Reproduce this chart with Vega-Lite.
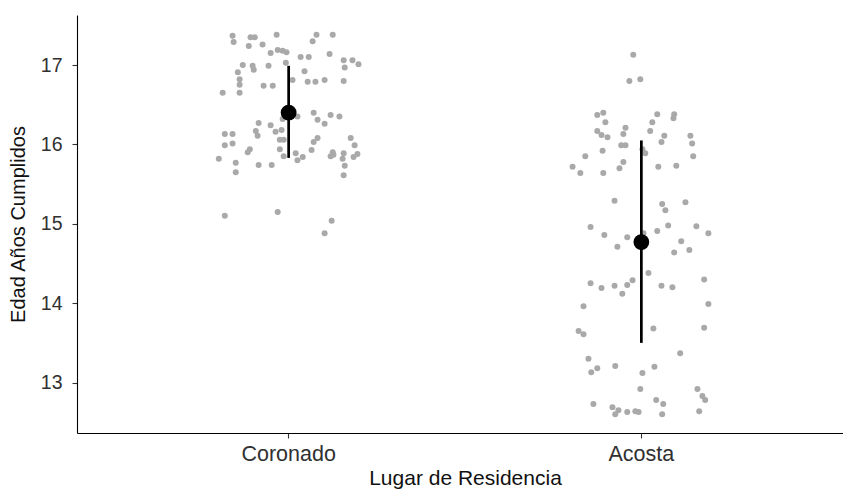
{
  "$schema": "https://vega.github.io/schema/vega-lite/v6.json",
  "width": 776,
  "height": 418,
  "autosize": "none",
  "padding": {"left": 77, "top": 15, "right": 0, "bottom": 56},
  "background": "white",
  "view": {"stroke": null},
  "config": {
    "font": "Liberation Sans",
    "axis": {
      "domainColor": "#000000",
      "domainWidth": 1.1,
      "tickColor": "#333333",
      "tickWidth": 1.1,
      "tickSize": 5,
      "grid": false,
      "labelFont": "Liberation Sans",
      "titleFont": "Liberation Sans",
      "labelColor": "#303030",
      "titleColor": "#111111",
      "titleFontWeight": "normal"
    }
  },
  "datasets": {
    "pts": [
      {"lugar": "Coronado", "jitter": -0.159, "edad": 17.37},
      {"lugar": "Coronado", "jitter": -0.156, "edad": 17.29},
      {"lugar": "Coronado", "jitter": -0.108, "edad": 17.35},
      {"lugar": "Coronado", "jitter": -0.096, "edad": 17.35},
      {"lugar": "Coronado", "jitter": -0.034, "edad": 17.38},
      {"lugar": "Coronado", "jitter": -0.113, "edad": 17.24},
      {"lugar": "Coronado", "jitter": -0.074, "edad": 17.26},
      {"lugar": "Coronado", "jitter": 0.079, "edad": 17.38},
      {"lugar": "Coronado", "jitter": 0.068, "edad": 17.30},
      {"lugar": "Coronado", "jitter": 0.125, "edad": 17.38},
      {"lugar": "Coronado", "jitter": -0.051, "edad": 17.15},
      {"lugar": "Coronado", "jitter": -0.031, "edad": 17.19},
      {"lugar": "Coronado", "jitter": -0.017, "edad": 17.18},
      {"lugar": "Coronado", "jitter": -0.006, "edad": 17.16},
      {"lugar": "Coronado", "jitter": 0.034, "edad": 17.10},
      {"lugar": "Coronado", "jitter": 0.057, "edad": 17.10},
      {"lugar": "Coronado", "jitter": 0.116, "edad": 17.14},
      {"lugar": "Coronado", "jitter": -0.008, "edad": 17.03},
      {"lugar": "Coronado", "jitter": -0.130, "edad": 17.00},
      {"lugar": "Coronado", "jitter": -0.102, "edad": 16.99},
      {"lugar": "Coronado", "jitter": -0.099, "edad": 16.94},
      {"lugar": "Coronado", "jitter": -0.057, "edad": 16.99},
      {"lugar": "Coronado", "jitter": -0.144, "edad": 16.91},
      {"lugar": "Coronado", "jitter": 0.045, "edad": 16.92},
      {"lugar": "Coronado", "jitter": 0.156, "edad": 17.06},
      {"lugar": "Coronado", "jitter": 0.159, "edad": 16.97},
      {"lugar": "Coronado", "jitter": 0.181, "edad": 17.06},
      {"lugar": "Coronado", "jitter": 0.198, "edad": 17.01},
      {"lugar": "Coronado", "jitter": -0.139, "edad": 16.82},
      {"lugar": "Coronado", "jitter": -0.139, "edad": 16.75},
      {"lugar": "Coronado", "jitter": -0.071, "edad": 16.74},
      {"lugar": "Coronado", "jitter": -0.045, "edad": 16.74},
      {"lugar": "Coronado", "jitter": 0.011, "edad": 16.81},
      {"lugar": "Coronado", "jitter": 0.054, "edad": 16.79},
      {"lugar": "Coronado", "jitter": 0.076, "edad": 16.79},
      {"lugar": "Coronado", "jitter": 0.102, "edad": 16.81},
      {"lugar": "Coronado", "jitter": 0.156, "edad": 16.80},
      {"lugar": "Coronado", "jitter": -0.187, "edad": 16.65},
      {"lugar": "Coronado", "jitter": -0.139, "edad": 16.65},
      {"lugar": "Coronado", "jitter": 0.071, "edad": 16.40},
      {"lugar": "Coronado", "jitter": 0.082, "edad": 16.31},
      {"lugar": "Coronado", "jitter": 0.102, "edad": 16.26},
      {"lugar": "Coronado", "jitter": 0.119, "edad": 16.37},
      {"lugar": "Coronado", "jitter": 0.144, "edad": 16.35},
      {"lugar": "Coronado", "jitter": 0.025, "edad": 16.35},
      {"lugar": "Coronado", "jitter": -0.085, "edad": 16.27},
      {"lugar": "Coronado", "jitter": -0.051, "edad": 16.24},
      {"lugar": "Coronado", "jitter": -0.017, "edad": 16.32},
      {"lugar": "Coronado", "jitter": -0.181, "edad": 16.13},
      {"lugar": "Coronado", "jitter": -0.159, "edad": 16.13},
      {"lugar": "Coronado", "jitter": -0.093, "edad": 16.17},
      {"lugar": "Coronado", "jitter": -0.088, "edad": 16.11},
      {"lugar": "Coronado", "jitter": -0.037, "edad": 16.16},
      {"lugar": "Coronado", "jitter": -0.020, "edad": 16.18},
      {"lugar": "Coronado", "jitter": -0.025, "edad": 16.06},
      {"lugar": "Coronado", "jitter": -0.014, "edad": 16.06},
      {"lugar": "Coronado", "jitter": -0.181, "edad": 15.99},
      {"lugar": "Coronado", "jitter": -0.159, "edad": 16.01},
      {"lugar": "Coronado", "jitter": -0.116, "edad": 15.90},
      {"lugar": "Coronado", "jitter": -0.110, "edad": 15.94},
      {"lugar": "Coronado", "jitter": -0.025, "edad": 15.94},
      {"lugar": "Coronado", "jitter": -0.014, "edad": 15.85},
      {"lugar": "Coronado", "jitter": 0.020, "edad": 15.89},
      {"lugar": "Coronado", "jitter": 0.025, "edad": 15.80},
      {"lugar": "Coronado", "jitter": 0.040, "edad": 15.84},
      {"lugar": "Coronado", "jitter": 0.065, "edad": 15.93},
      {"lugar": "Coronado", "jitter": 0.071, "edad": 16.03},
      {"lugar": "Coronado", "jitter": 0.082, "edad": 16.08},
      {"lugar": "Coronado", "jitter": 0.176, "edad": 16.08},
      {"lugar": "Coronado", "jitter": 0.187, "edad": 15.99},
      {"lugar": "Coronado", "jitter": 0.125, "edad": 15.90},
      {"lugar": "Coronado", "jitter": 0.119, "edad": 15.85},
      {"lugar": "Coronado", "jitter": 0.127, "edad": 15.87},
      {"lugar": "Coronado", "jitter": 0.153, "edad": 15.82},
      {"lugar": "Coronado", "jitter": 0.156, "edad": 15.89},
      {"lugar": "Coronado", "jitter": 0.184, "edad": 15.84},
      {"lugar": "Coronado", "jitter": 0.195, "edad": 15.88},
      {"lugar": "Coronado", "jitter": 0.159, "edad": 15.73},
      {"lugar": "Coronado", "jitter": 0.156, "edad": 15.61},
      {"lugar": "Coronado", "jitter": -0.198, "edad": 15.82},
      {"lugar": "Coronado", "jitter": -0.150, "edad": 15.77},
      {"lugar": "Coronado", "jitter": -0.150, "edad": 15.65},
      {"lugar": "Coronado", "jitter": -0.085, "edad": 15.74},
      {"lugar": "Coronado", "jitter": -0.048, "edad": 15.74},
      {"lugar": "Coronado", "jitter": -0.181, "edad": 15.10},
      {"lugar": "Coronado", "jitter": -0.031, "edad": 15.15},
      {"lugar": "Coronado", "jitter": 0.122, "edad": 15.04},
      {"lugar": "Coronado", "jitter": 0.102, "edad": 14.88},
      {"lugar": "Acosta", "jitter": -0.023, "edad": 17.13},
      {"lugar": "Acosta", "jitter": -0.034, "edad": 16.80},
      {"lugar": "Acosta", "jitter": -0.003, "edad": 16.82},
      {"lugar": "Acosta", "jitter": -0.125, "edad": 16.37},
      {"lugar": "Acosta", "jitter": -0.108, "edad": 16.40},
      {"lugar": "Acosta", "jitter": -0.102, "edad": 16.28},
      {"lugar": "Acosta", "jitter": 0.045, "edad": 16.38},
      {"lugar": "Acosta", "jitter": 0.093, "edad": 16.38},
      {"lugar": "Acosta", "jitter": 0.091, "edad": 16.33},
      {"lugar": "Acosta", "jitter": 0.031, "edad": 16.28},
      {"lugar": "Acosta", "jitter": -0.125, "edad": 16.17},
      {"lugar": "Acosta", "jitter": -0.113, "edad": 16.12},
      {"lugar": "Acosta", "jitter": -0.096, "edad": 16.09},
      {"lugar": "Acosta", "jitter": -0.045, "edad": 16.21},
      {"lugar": "Acosta", "jitter": -0.051, "edad": 16.13},
      {"lugar": "Acosta", "jitter": 0.025, "edad": 16.17},
      {"lugar": "Acosta", "jitter": 0.065, "edad": 16.11},
      {"lugar": "Acosta", "jitter": 0.057, "edad": 16.03},
      {"lugar": "Acosta", "jitter": 0.139, "edad": 16.11},
      {"lugar": "Acosta", "jitter": 0.144, "edad": 16.01},
      {"lugar": "Acosta", "jitter": -0.057, "edad": 15.99},
      {"lugar": "Acosta", "jitter": -0.045, "edad": 15.99},
      {"lugar": "Acosta", "jitter": -0.110, "edad": 15.92},
      {"lugar": "Acosta", "jitter": -0.159, "edad": 15.85},
      {"lugar": "Acosta", "jitter": 0.003, "edad": 15.94},
      {"lugar": "Acosta", "jitter": 0.011, "edad": 15.89},
      {"lugar": "Acosta", "jitter": 0.147, "edad": 15.85},
      {"lugar": "Acosta", "jitter": -0.195, "edad": 15.72},
      {"lugar": "Acosta", "jitter": -0.173, "edad": 15.64},
      {"lugar": "Acosta", "jitter": -0.108, "edad": 15.64},
      {"lugar": "Acosta", "jitter": -0.062, "edad": 15.70},
      {"lugar": "Acosta", "jitter": -0.051, "edad": 15.78},
      {"lugar": "Acosta", "jitter": 0.048, "edad": 15.72},
      {"lugar": "Acosta", "jitter": 0.099, "edad": 15.73},
      {"lugar": "Acosta", "jitter": -0.076, "edad": 15.29},
      {"lugar": "Acosta", "jitter": 0.059, "edad": 15.25},
      {"lugar": "Acosta", "jitter": 0.068, "edad": 15.17},
      {"lugar": "Acosta", "jitter": 0.125, "edad": 15.27},
      {"lugar": "Acosta", "jitter": -0.144, "edad": 14.96},
      {"lugar": "Acosta", "jitter": -0.105, "edad": 14.86},
      {"lugar": "Acosta", "jitter": -0.040, "edad": 14.83},
      {"lugar": "Acosta", "jitter": 0.006, "edad": 14.88},
      {"lugar": "Acosta", "jitter": 0.045, "edad": 14.91},
      {"lugar": "Acosta", "jitter": 0.076, "edad": 14.98},
      {"lugar": "Acosta", "jitter": 0.156, "edad": 14.97},
      {"lugar": "Acosta", "jitter": 0.190, "edad": 14.88},
      {"lugar": "Acosta", "jitter": 0.113, "edad": 14.78},
      {"lugar": "Acosta", "jitter": 0.136, "edad": 14.67},
      {"lugar": "Acosta", "jitter": 0.093, "edad": 14.64},
      {"lugar": "Acosta", "jitter": -0.068, "edad": 14.71},
      {"lugar": "Acosta", "jitter": 0.020, "edad": 14.38},
      {"lugar": "Acosta", "jitter": -0.025, "edad": 14.29},
      {"lugar": "Acosta", "jitter": 0.178, "edad": 14.30},
      {"lugar": "Acosta", "jitter": -0.144, "edad": 14.25},
      {"lugar": "Acosta", "jitter": -0.113, "edad": 14.19},
      {"lugar": "Acosta", "jitter": -0.076, "edad": 14.22},
      {"lugar": "Acosta", "jitter": -0.040, "edad": 14.23},
      {"lugar": "Acosta", "jitter": -0.054, "edad": 14.12},
      {"lugar": "Acosta", "jitter": 0.057, "edad": 14.22},
      {"lugar": "Acosta", "jitter": 0.088, "edad": 14.20},
      {"lugar": "Acosta", "jitter": -0.164, "edad": 13.96},
      {"lugar": "Acosta", "jitter": 0.190, "edad": 13.99},
      {"lugar": "Acosta", "jitter": -0.178, "edad": 13.65},
      {"lugar": "Acosta", "jitter": -0.164, "edad": 13.61},
      {"lugar": "Acosta", "jitter": 0.034, "edad": 13.68},
      {"lugar": "Acosta", "jitter": 0.178, "edad": 13.69},
      {"lugar": "Acosta", "jitter": -0.150, "edad": 13.30},
      {"lugar": "Acosta", "jitter": -0.125, "edad": 13.18},
      {"lugar": "Acosta", "jitter": -0.142, "edad": 13.13},
      {"lugar": "Acosta", "jitter": -0.074, "edad": 13.21},
      {"lugar": "Acosta", "jitter": 0.003, "edad": 13.12},
      {"lugar": "Acosta", "jitter": 0.037, "edad": 13.20},
      {"lugar": "Acosta", "jitter": 0.110, "edad": 13.37},
      {"lugar": "Acosta", "jitter": -0.003, "edad": 12.92},
      {"lugar": "Acosta", "jitter": 0.159, "edad": 12.92},
      {"lugar": "Acosta", "jitter": 0.173, "edad": 12.83},
      {"lugar": "Acosta", "jitter": 0.181, "edad": 12.78},
      {"lugar": "Acosta", "jitter": -0.136, "edad": 12.73},
      {"lugar": "Acosta", "jitter": -0.082, "edad": 12.69},
      {"lugar": "Acosta", "jitter": -0.065, "edad": 12.65},
      {"lugar": "Acosta", "jitter": -0.074, "edad": 12.60},
      {"lugar": "Acosta", "jitter": -0.040, "edad": 12.63},
      {"lugar": "Acosta", "jitter": -0.017, "edad": 12.64},
      {"lugar": "Acosta", "jitter": -0.008, "edad": 12.63},
      {"lugar": "Acosta", "jitter": 0.042, "edad": 12.78},
      {"lugar": "Acosta", "jitter": 0.062, "edad": 12.73},
      {"lugar": "Acosta", "jitter": 0.059, "edad": 12.60},
      {"lugar": "Acosta", "jitter": 0.164, "edad": 12.64}
    ],
    "resumen": [
      {"lugar": "Coronado", "media": 16.40, "inf": 15.83, "sup": 16.99},
      {"lugar": "Acosta", "media": 14.77, "inf": 13.50, "sup": 16.05}
    ]
  },
  "encoding": {
    "x": {
      "field": "lugar",
      "type": "nominal",
      "scale": {"domain": ["Coronado", "Acosta"], "paddingInner": 0, "paddingOuter": 0.1},
      "axis": {"title": "Lugar de Residencia", "labelAngle": 0, "labelFontSize": 21.5, "titleFontSize": 21, "labelPadding": 5, "titlePadding": 3}
    }
  },
  "layer": [
    {
      "data": {"name": "pts"},
      "mark": {"type": "point", "shape": "circle", "filled": true, "opacity": 1, "color": "#A9A9A9", "size": 36},
      "encoding": {
        "xOffset": {"field": "jitter", "type": "quantitative", "scale": {"domain": [-0.5, 0.5]}},
        "y": {
          "field": "edad",
          "type": "quantitative",
          "scale": {"domain": [12.365, 17.63], "nice": false, "zero": false},
          "axis": {"title": "Edad Años Cumplidos", "values": [13, 14, 15, 16, 17], "format": "d", "labelFontSize": 19.5, "titleFontSize": 20, "labelPadding": 10, "titlePadding": 12}
        }
      }
    },
    {
      "data": {"name": "resumen"},
      "mark": {"type": "rule", "color": "#000000", "strokeWidth": 2.7},
      "encoding": {
        "y": {"field": "inf", "type": "quantitative"},
        "y2": {"field": "sup"}
      }
    },
    {
      "data": {"name": "resumen"},
      "mark": {"type": "point", "shape": "circle", "filled": true, "opacity": 1, "color": "#000000", "size": 250},
      "encoding": {
        "y": {"field": "media", "type": "quantitative"}
      }
    }
  ]
}
